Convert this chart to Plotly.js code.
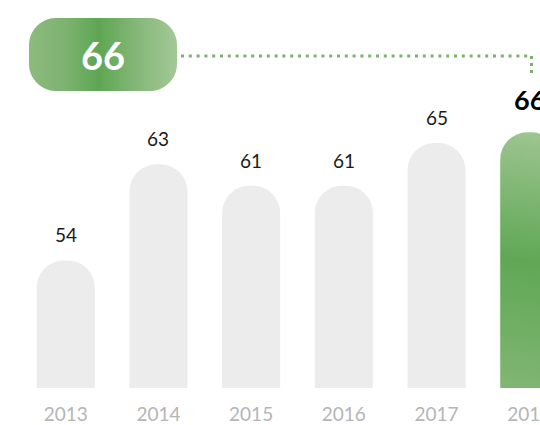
<!DOCTYPE html>
<html>
<head>
<meta charset="utf-8">
<script src="https://cdn.plot.ly/plotly-3.0.1.min.js"></script>
<style>
  html, body { margin: 0; padding: 0; background: #ffffff; }
  #chart { width: 540px; height: 425px; }
</style>
</head>
<body>
<div id="chart"></div>
<script>
// ---- data ----
const years = ['2013', '2014', '2015', '2016', '2017', '2018'];
const values = [54, 63, 61, 61, 65, 66];
const highlightValue = 66;

// ---- layout helpers (pixel -> paper) ----
const W = 540, H = 425, PLOT_H = 388;
const Y_MIN = 42.06, Y_MAX = 78.39;
function px(x) { return x / W; }
function py(y) { return 1 - y / PLOT_H; }

const last = years.length - 1;
const barColors = years.map((_, i) => i === last ? '#6aaa5e' : '#ececec');

const trace = {
  type: 'bar',
  x: years,
  y: values,
  marker: { color: barColors, cornerradius: 27, line: { width: 0 } },
  hoverinfo: 'skip'
};

const annotations = years.map((yr, i) => ({
  x: i,
  y: values[i],
  xref: 'x', yref: 'y',
  text: String(values[i]),
  showarrow: false,
  xanchor: 'center',
  yanchor: 'bottom',
  yshift: i === last ? 14 : 12,
  font: {
    family: 'Lato, "Open Sans", sans-serif',
    size: i === last ? 27 : 19,
    weight: i === last ? 700 : 400,
    color: i === last ? '#000000' : '#1a1a1a'
  }
}));

// pill label
annotations.push({
  x: px(103), y: py(55), xref: 'paper', yref: 'paper',
  text: String(highlightValue), showarrow: false,
  xanchor: 'center', yanchor: 'middle',
  font: { family: 'Lato, "Open Sans", sans-serif', size: 38, weight: 700, color: '#ffffff' }
});

// pill shape path (rounded rectangle)
function pillPath(x0, y0, x1, y1, r) {
  const pts = [];
  function arc(cx, cy, a0, a1) {
    const n = 10;
    for (let k = 0; k <= n; k++) {
      const a = a0 + (a1 - a0) * k / n;
      pts.push([cx + r * Math.cos(a), cy + r * Math.sin(a)]);
    }
  }
  arc(x1 - r, y0 + r, -Math.PI / 2, 0);
  arc(x1 - r, y1 - r, 0, Math.PI / 2);
  arc(x0 + r, y1 - r, Math.PI / 2, Math.PI);
  arc(x0 + r, y0 + r, Math.PI, 1.5 * Math.PI);
  return 'M' + pts.map(p => px(p[0]).toFixed(5) + ',' + py(p[1]).toFixed(5)).join('L') + 'Z';
}

const dotColor = '#7ab36d';
const shapes = [
  {
    type: 'path', xref: 'paper', yref: 'paper',
    path: pillPath(29, 18, 177, 91, 27),
    fillcolor: '#72ad65', line: { width: 0 }, layer: 'above'
  },
  {
    type: 'line', xref: 'paper', yref: 'paper',
    x0: px(181), x1: px(531.5), y0: py(56), y1: py(56),
    line: { color: dotColor, width: 3, dash: '3px,4.8px' }
  },
  {
    type: 'line', xref: 'paper', yref: 'paper',
    x0: px(531.5), x1: px(531.5), y0: py(56), y1: py(77),
    line: { color: dotColor, width: 3, dash: '3px,4px' }
  }
];

const layout = {
  width: W, height: H,
  margin: { l: 0, r: 0, t: 0, b: H - PLOT_H, pad: 0 },
  paper_bgcolor: '#ffffff',
  plot_bgcolor: '#ffffff',
  showlegend: false,
  bargap: 0.374,
  xaxis: {
    type: 'category',
    range: [-0.709, 5.116],
    showgrid: false, zeroline: false, showline: false, ticks: '',
    ticklabelstandoff: 13,
    tickfont: { family: 'Lato, "Open Sans", sans-serif', size: 19, color: '#b5b5b5' },
    fixedrange: true
  },
  yaxis: {
    range: [Y_MIN, Y_MAX],
    visible: false,
    fixedrange: true
  },
  annotations: annotations,
  shapes: shapes
};

const gd = document.getElementById('chart');
Plotly.newPlot(gd, [trace], layout, { displayModeBar: false, staticPlot: true }).then(() => {
  const svgNS = 'http://www.w3.org/2000/svg';
  const defs = gd.querySelector('svg.main-svg defs');
  function grad(id, units, x1, y1, x2, y2, stops) {
    const g = document.createElementNS(svgNS, 'linearGradient');
    g.setAttribute('id', id);
    g.setAttribute('gradientUnits', units);
    g.setAttribute('x1', x1); g.setAttribute('y1', y1);
    g.setAttribute('x2', x2); g.setAttribute('y2', y2);
    stops.forEach(s => {
      const st = document.createElementNS(svgNS, 'stop');
      st.setAttribute('offset', s[0]);
      st.setAttribute('stop-color', s[1]);
      g.appendChild(st);
    });
    defs.appendChild(g);
  }
  grad('pillGrad', 'objectBoundingBox', '0', '0', '1', '0', [
    ['0', '#8dbb7e'], ['0.25', '#7db271'], ['0.47', '#5ea653'],
    ['0.72', '#84b777'], ['1', '#a3c897']
  ]);
  grad('barGrad', 'userSpaceOnUse', '545', '134', '505', '388', [
    ['0', '#9dc590'], ['0.5', '#60a755'], ['1', '#80b673']
  ]);
  const pill = gd.querySelector('.shapelayer path[data-index="0"]');
  if (pill) pill.style.fill = 'url(#pillGrad)';
  const bars = gd.querySelectorAll('.barlayer .point path');
  if (bars.length) bars[bars.length - 1].style.fill = 'url(#barGrad)';
});
</script>
</body>
</html>
